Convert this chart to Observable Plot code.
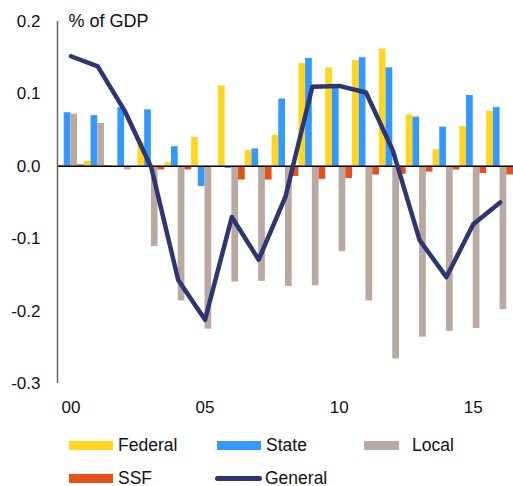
<!DOCTYPE html>
<html>
<head>
<meta charset="utf-8">
<script src="https://cdn.jsdelivr.net/npm/d3@7"></script>
<script src="https://cdn.jsdelivr.net/npm/@observablehq/plot@0.6"></script>
<style>
  html, body { margin: 0; padding: 0; background: #fff; }
  body { width: 513px; height: 486px; overflow: hidden; font-family: "Liberation Sans", Arial, sans-serif; }
  #legend { position: relative; width: 513px; height: 61px; font-size: 17.5px; color: #111; }
  .item { position: absolute; display: flex; align-items: center; height: 20px; }
  .sw { height: 9px; margin-right: 5px; }
  .ln { height: 5px; border-radius: 3px; margin-right: 3px; }
</style>
</head>
<body>
<div id="chart"></div>
<div id="legend"></div>
<script>
const years = [2000, 2001, 2002, 2003, 2004, 2005, 2006, 2007, 2008, 2009, 2010, 2011, 2012, 2013, 2014, 2015, 2016];
const federal = [0.002, 0.007, -0.002, 0.033, 0.005, 0.040, 0.111, 0.022, 0.043, 0.142, 0.136, 0.146, 0.162, 0.071, 0.023, 0.055, 0.076];
const state   = [0.074, 0.070, 0.081, 0.078, 0.027, -0.028, -0.003, 0.024, 0.093, 0.149, 0.111, 0.150, 0.136, 0.068, 0.054, 0.098, 0.081];
const local   = [0.072, 0.059, -0.005, -0.111, -0.186, -0.225, -0.160, -0.159, -0.166, -0.165, -0.118, -0.186, -0.266, -0.236, -0.228, -0.224, -0.198];
const ssf     = [0.002, 0.001, 0.000, -0.005, -0.005, 0.000, -0.019, -0.019, -0.014, -0.018, -0.017, -0.012, -0.011, -0.008, -0.005, -0.010, -0.012];
const general = [0.152, 0.138, 0.077, -0.002, -0.157, -0.212, -0.070, -0.129, -0.042, 0.110, 0.111, 0.102, 0.022, -0.102, -0.153, -0.080, -0.050];
const yTicks = [-0.3, -0.2, -0.1, 0, 0.1, 0.2];
const xTicks = [2000, 2005, 2010, 2015];

const seriesNames = ["Federal", "State", "Local", "SSF"];
const seriesValues = [federal, state, local, ssf];
const colors = {Federal: "#FFD520", State: "#3399FF", Local: "#B8A9A2", SSF: "#E8501A", General: "#2D3572"};

const bars = [];
seriesNames.forEach((name, i) => {
  years.forEach((yr, j) => bars.push({year: yr, series: name, i, value: seriesValues[i][j]}));
});
const lineData = years.map((yr, j) => ({year: yr, value: general[j]}));

const plot = Plot.plot({
  width: 513,
  height: 425,
  marginLeft: 57,
  marginRight: 0,
  marginTop: 21,
  marginBottom: 42,
  style: {fontFamily: "'Liberation Sans', Arial, sans-serif", fontSize: "17px", color: "#111", background: "#fff"},
  x: {type: "linear", domain: [1999.5, 2016.5]},
  y: {domain: [-0.3, 0.2]},
  marks: [
    Plot.rectY(bars, {
      x1: d => d.year - 0.5 + d.i * 0.25,
      x2: d => d.year - 0.25 + d.i * 0.25,
      y: "value",
      fill: d => colors[d.series]
    }),
    Plot.ruleY([0], {stroke: "#000", strokeWidth: 1.5}),
    Plot.ruleX([1999.5], {y1: -0.3, y2: 0.2, stroke: "#666", strokeWidth: 1.5}),
    Plot.line(lineData, {x: "year", y: "value", stroke: colors.General, strokeWidth: 4.5, strokeLinecap: "round"}),
    Plot.axisY({ticks: yTicks, tickSize: 0, tickPadding: 17, tickFormat: d => d.toFixed(1), label: null, fontSize: 17}),
    Plot.axisX({ticks: xTicks, tickSize: 0, tickPadding: 17, tickFormat: d => String(d).slice(2), label: null, fontSize: 17}),
    Plot.text(["% of GDP"], {frameAnchor: "top-left", dx: 11, textAnchor: "start", lineAnchor: "middle", fontSize: 18, fill: "#111"})
  ]
});
document.getElementById("chart").appendChild(plot);

const legendItems = [
  {name: "Federal", type: "sw", left: 69, top: 0, w: 44},
  {name: "State", type: "sw", left: 217, top: 0, w: 44},
  {name: "Local", type: "sw", left: 364, top: 0, w: 35, gap: 13},
  {name: "SSF", type: "sw", left: 69, top: 33, w: 44},
  {name: "General", type: "ln", left: 215, top: 33, w: 47}
];
const legend = document.getElementById("legend");
legendItems.forEach(it => {
  const div = document.createElement("div");
  div.className = "item";
  div.style.left = it.left + "px";
  div.style.top = (it.top + 10) + "px";
  const sw = document.createElement("span");
  sw.className = it.type;
  sw.style.width = it.w + "px";
  sw.style.background = colors[it.name];
  if (it.gap) sw.style.marginRight = it.gap + "px";
  div.appendChild(sw);
  const t = document.createElement("span");
  t.textContent = it.name;
  div.appendChild(t);
  legend.appendChild(div);
});
</script>
</body>
</html>
